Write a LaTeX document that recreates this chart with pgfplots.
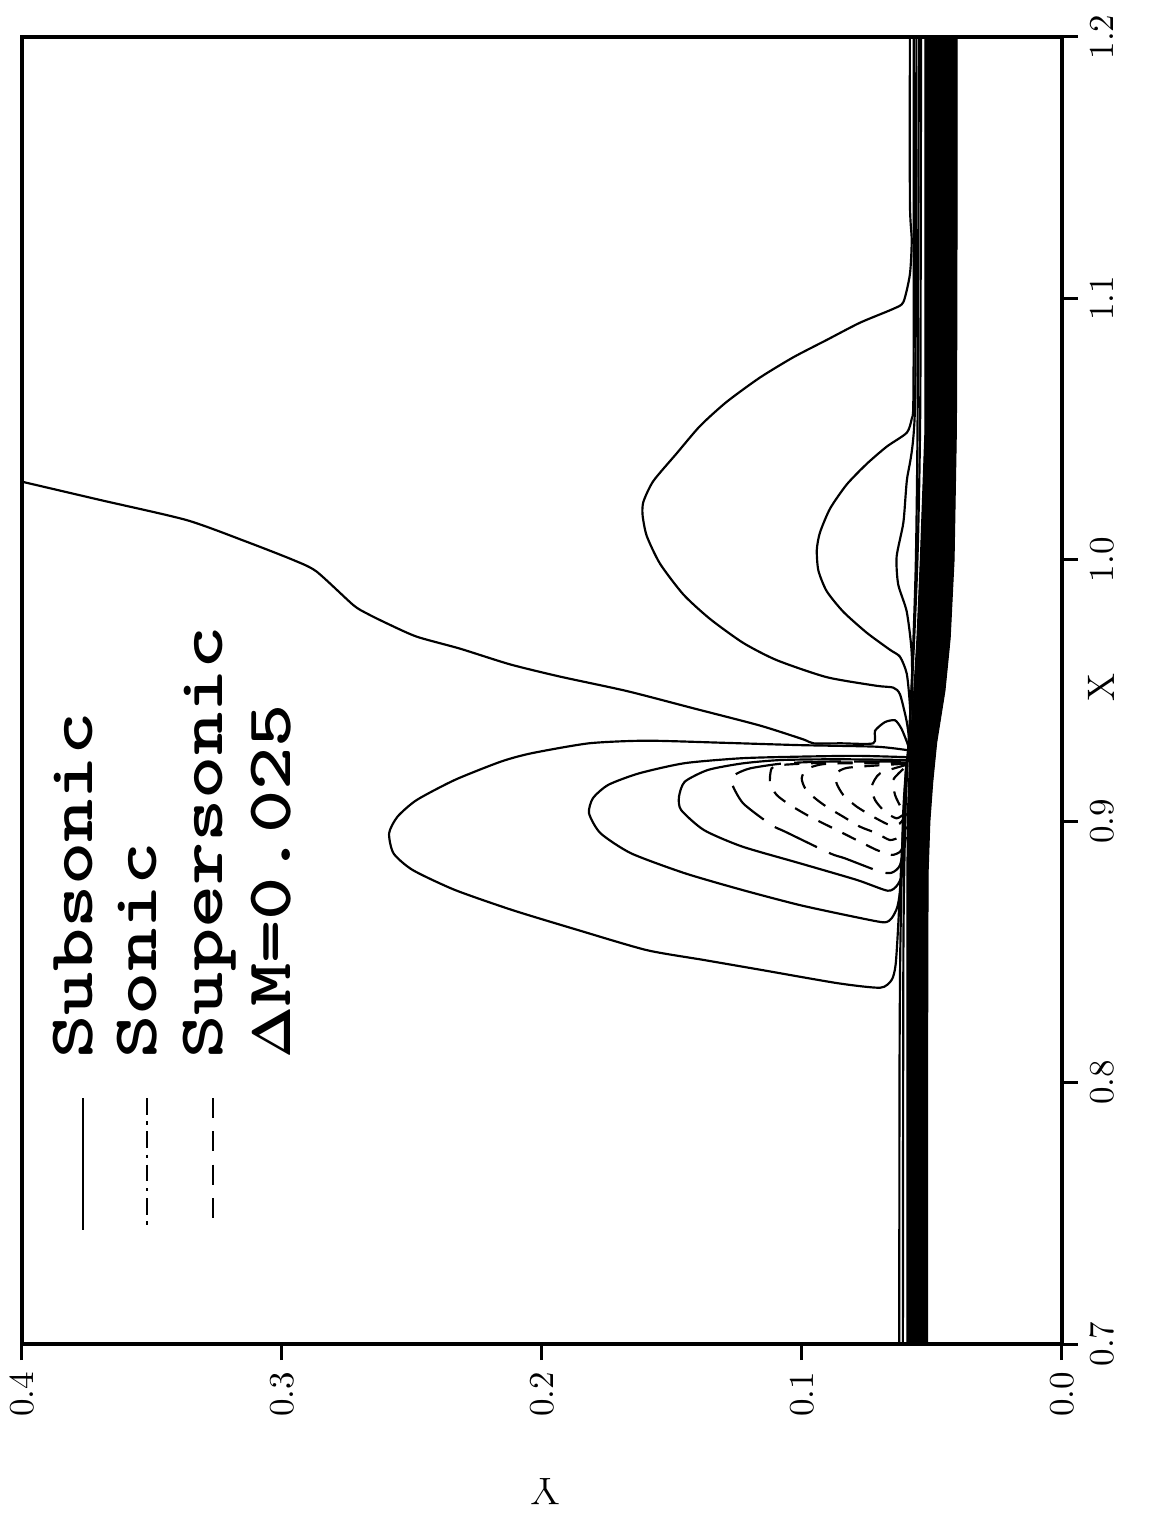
\documentclass[border=0pt]{standalone}
\usepackage{pgfplots}
\usepackage{pgfplotstable}
\usepackage{graphicx}
\pgfplotsset{compat=1.18}

% Mach-number contours; columns are the streamwise X and the normal Y.
% Dense boundary-layer contours, drawn as one filled band
\pgfplotstableread{
X Y
0.690 0.0517
0.800 0.0517
0.880 0.0515
0.900 0.0508
0.915 0.0497
0.930 0.0482
0.950 0.0450
0.970 0.0430
1.000 0.0415
1.050 0.0406
1.100 0.0404
1.210 0.0403
1.210 0.0527
1.100 0.0527
1.050 0.0527
1.000 0.0545
0.970 0.0558
0.950 0.0570
0.930 0.0584
0.900 0.0596
0.800 0.0597
0.690 0.0597
}\band

% contours hugging the edge of the boundary layer
\pgfplotstableread{
X Y
0.690 0.0626
0.800 0.0625
0.850 0.0622
0.900 0.0612
0.920 0.0600
0.930 0.0590
0.960 0.0575
1.000 0.0562
1.060 0.0555
1.210 0.0550
}\edgeA
\pgfplotstableread{
X Y
0.690 0.0612
0.850 0.0610
0.900 0.0603
0.920 0.0595
0.950 0.0578
1.000 0.0556
1.060 0.0545
1.210 0.0542
}\edgeB

% subsonic contours
\pgfplotstableread{
X Y
1.0310 0.4050
1.0299 0.4001
1.0229 0.3700
1.0152 0.3367
1.0069 0.3136
0.9999 0.2956
0.9955 0.2867
0.9827 0.2726
0.9795 0.2674
0.9757 0.2597
0.9706 0.2482
0.9660 0.2315
0.9600 0.2123
0.9553 0.1930
0.9498 0.1674
0.9432 0.1418
0.9366 0.1162
0.9313 0.0995
0.9298 0.0956
0.9298 0.0850
0.9298 0.0726
0.9346 0.0719
0.9379 0.0681
0.9386 0.0642
0.9353 0.0617
0.9287 0.0591
0.9221 0.0578
}\contL

\pgfplotstableread{
X Y
1.2100 0.0585
1.1376 0.0585
1.1223 0.0578
1.1092 0.0585
1.0986 0.0610
1.0960 0.0649
1.0907 0.0777
1.0841 0.0905
1.0775 0.1033
1.0697 0.1162
1.0604 0.1290
1.0512 0.1392
1.0407 0.1482
1.0301 0.1572
1.0222 0.1610
1.0170 0.1613
1.0091 0.1597
0.9985 0.1546
0.9867 0.1456
0.9774 0.1354
0.9682 0.1226
0.9616 0.1097
0.9551 0.0905
0.9518 0.0713
0.9511 0.0649
0.9485 0.0623
0.9380 0.0597
0.9287 0.0585
0.9208 0.0578
}\contUa

\pgfplotstableread{
X Y
1.2100 0.0570
1.1000 0.0570
1.0591 0.0572
1.0539 0.0578
1.0486 0.0597
1.0433 0.0674
1.0367 0.0751
1.0288 0.0828
1.0196 0.0892
1.0104 0.0931
1.0038 0.0943
0.9959 0.0937
0.9880 0.0905
0.9801 0.0841
0.9721 0.0751
0.9656 0.0662
0.9629 0.0623
0.9564 0.0597
0.9445 0.0585
0.9300 0.0580
}\contUb

\pgfplotstableread{
X Y
1.2100 0.0560
1.0600 0.0565
1.0301 0.0597
1.0143 0.0610
1.0012 0.0636
0.9906 0.0630
0.9801 0.0597
0.9643 0.0578
0.9400 0.0575
}\contUc

\pgfplotstableread{
X Y
0.9200 0.0600
0.9000 0.0610
0.8600 0.0630
0.8450 0.0640
0.8393 0.0655
0.8363 0.0699
0.8380 0.0861
0.8431 0.1156
0.8469 0.1377
0.8507 0.1598
0.8584 0.1863
0.8660 0.2114
0.8737 0.2335
0.8813 0.2497
0.8877 0.2571
0.8954 0.2588
0.9017 0.2556
0.9081 0.2482
0.9158 0.2335
0.9228 0.2158
0.9260 0.2040
0.9298 0.1819
0.9308 0.1598
0.9300 0.1303
0.9291 0.1008
0.9285 0.0714
0.9272 0.0596
}\contA

\pgfplotstableread{
X Y
0.9200 0.0598
0.9000 0.0608
0.8760 0.0620
0.8673 0.0633
0.8629 0.0655
0.8613 0.0684
0.8632 0.0788
0.8679 0.1008
0.8737 0.1230
0.8801 0.1451
0.8877 0.1657
0.8954 0.1775
0.9030 0.1819
0.9088 0.1804
0.9139 0.1745
0.9183 0.1627
0.9222 0.1451
0.9241 0.1230
0.9247 0.1008
0.9250 0.0788
0.9245 0.0596
}\contB

\pgfplotstableread{
X Y
0.9200 0.0597
0.9000 0.0605
0.8813 0.0611
0.8756 0.0633
0.8734 0.0670
0.8775 0.0788
0.8839 0.1008
0.8903 0.1230
0.8966 0.1377
0.9043 0.1465
0.9094 0.1473
0.9151 0.1451
0.9196 0.1362
0.9221 0.1230
0.9234 0.1082
0.9237 0.0861
0.9234 0.0596
}\contC

% sonic line
\pgfplotstableread{
X Y
0.8940 0.0600
0.8832 0.0623
0.8803 0.0655
0.8807 0.0700
0.8858 0.0835
0.8877 0.0892
0.8960 0.1065
0.8985 0.1117
0.9068 0.1226
0.9145 0.1270
0.9177 0.1259
0.9202 0.1200
0.9221 0.1072
0.9228 0.0900
0.9228 0.0597
}\sonic

% supersonic contours
\pgfplotstableread{
X Y
0.9225 0.0600
0.9224 0.0900
0.9215 0.1080
0.9202 0.1117
0.9145 0.1123
0.9100 0.1097
0.9062 0.1046
0.9017 0.0969
0.8973 0.0880
0.8928 0.0790
0.8890 0.0713
0.8871 0.0655
0.8883 0.0623
0.8915 0.0604
}\supA
\pgfplotstableread{
X Y
0.9222 0.0600
0.9220 0.0900
0.9199 0.0982
0.9164 0.1001
0.9126 0.0988
0.9088 0.0950
0.9055 0.0905
0.9017 0.0841
0.8979 0.0777
0.8954 0.0713
0.8928 0.0662
0.8941 0.0623
0.8979 0.0597
}\supB
\pgfplotstableread{
X Y
0.9220 0.0600
0.9205 0.0820
0.9183 0.0867
0.9145 0.0867
0.9100 0.0841
0.9056 0.0790
0.9017 0.0726
0.8985 0.0662
0.8992 0.0623
0.9030 0.0597
}\supC
\pgfplotstableread{
X Y
0.9215 0.0600
0.9183 0.0700
0.9132 0.0732
0.9081 0.0719
0.9036 0.0681
0.9011 0.0636
0.9030 0.0604
}\supD
\pgfplotstableread{
X Y
0.9200 0.0610
0.9158 0.0649
0.9100 0.0642
0.9049 0.0617
0.9030 0.0600
}\supE

\newcommand\legtext[1]{\scalebox{1.3}[1]{\fontsize{19}{22}\selectfont\ttfamily\bfseries #1}}

\begin{document}
\begin{tikzpicture}
\begin{axis}[
  name=ax,
  scale only axis,
  width=312pt, height=392.1pt,
  xmin=0, xmax=0.4, ymin=0.7, ymax=1.2,
  x dir=reverse,
  xtick={0,0.1,0.2,0.3,0.4},
  xticklabels={0.0,0.1,0.2,0.3,0.4},
  ytick={0.7,0.8,0.9,1.0,1.1,1.2},
  yticklabels={0.7,0.8,0.9,1.0,1.1,1.2},
  xtick pos=left, ytick pos=right, yticklabel pos=right,
  tick align=outside, major tick length=4.8pt,
  tick style={black, line width=0.9pt},
  axis line style={line width=1.2pt},
  xticklabel style={rotate=90, anchor=east, font=\fontsize{10.5}{12}\selectfont},
  yticklabel style={rotate=90, anchor=north, font=\fontsize{10.5}{12}\selectfont},
  xlabel={Y}, ylabel={X},
  every axis x label/.style={at={(axis description cs:0.503,0)}, anchor=center,
    yshift=-44.4pt, rotate=180, font=\fontsize{11.5}{13}\selectfont},
  every axis y label/.style={at={(axis description cs:1,0.502)}, anchor=center,
    xshift=11.7pt, rotate=90, font=\fontsize{11.5}{13}\selectfont},
  contour/.style={black, line width=0.65pt, smooth, tension=0.4},
  supersonic/.style={contour, dash pattern=on 4.5pt off 3.5pt},
  sonicline/.style={contour, dash pattern=on 14pt off 4pt},
]
\addplot[fill=black, draw=black, line width=0.3pt] table[x=Y, y=X] {\band};
\addplot[contour] table[x=Y, y=X] {\edgeA};
\addplot[contour] table[x=Y, y=X] {\edgeB};

\addplot[contour] table[x=Y, y=X] {\contL};
\addplot[contour] table[x=Y, y=X] {\contUa};
\addplot[contour] table[x=Y, y=X] {\contUb};
\addplot[contour] table[x=Y, y=X] {\contUc};
\addplot[contour] table[x=Y, y=X] {\contA};
\addplot[contour] table[x=Y, y=X] {\contB};
\addplot[contour] table[x=Y, y=X] {\contC};

\addplot[sonicline] table[x=Y, y=X] {\sonic};

\addplot[supersonic] table[x=Y, y=X] {\supA};
\addplot[supersonic] table[x=Y, y=X] {\supB};
\addplot[supersonic] table[x=Y, y=X] {\supC};
\addplot[supersonic] table[x=Y, y=X] {\supD};
\addplot[supersonic] table[x=Y, y=X] {\supE};

% key
\draw[line width=0.65pt] (axis cs:0.3765,0.7941) -- (axis cs:0.3765,0.7436);
\draw[line width=0.65pt, dash pattern=on 5pt off 2pt on 1pt off 2pt]
  (axis cs:0.3519,0.7941) -- (axis cs:0.3519,0.7436);
\draw[line width=0.65pt, dash pattern=on 6pt off 4pt]
  (axis cs:0.3265,0.7941) -- (axis cs:0.3265,0.7436);
\node[rotate=90, anchor=base west, inner sep=0pt] at (axis cs:0.3727,0.8090) {\legtext{Subsonic}};
\node[rotate=90, anchor=base west, inner sep=0pt] at (axis cs:0.3481,0.8090) {\legtext{Sonic}};
\node[rotate=90, anchor=base west, inner sep=0pt] at (axis cs:0.3227,0.8090) {\legtext{Supersonic}};
\node[rotate=90, anchor=base west, inner sep=0pt] at (axis cs:0.2969,0.8090) {\legtext{\scalebox{0.74}[0.95]{$\mathbf{\Delta}$}M=0.025}};
\end{axis}
\pgfresetboundingbox
\path ([shift={(-6.6pt,-51.9pt)}]ax.south west) rectangle ([shift={(31.5pt,11.1pt)}]ax.north east);
\end{tikzpicture}
\end{document}
